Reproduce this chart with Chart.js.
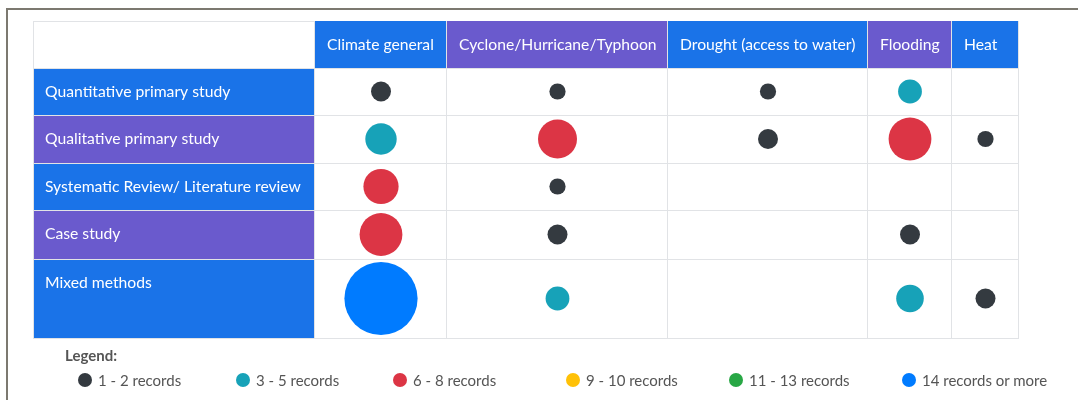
<!DOCTYPE html>
<html>
<head>
<meta charset="utf-8">
<title>Evidence gap map</title>
<script src="https://cdn.jsdelivr.net/npm/chart.js@4.4.0/dist/chart.umd.min.js"></script>
<style>
  html, body { margin: 0; padding: 0; background: #fff; width: 1078px; height: 400px; overflow: hidden; font-family: Lato, "Open Sans", sans-serif; }
  #frame { position: absolute; left: 6px; top: 8px; width: 1100px; height: 420px; border-top: 2px solid #7c7970; border-left: 2px solid #7c7970; box-sizing: border-box; }
  #map { position: absolute; left: 0; top: 0; }
  #legendTitle { position: absolute; left: 65px; top: 346px; font-size: 15px; font-weight: bold; color: #555; }
  .item { position: absolute; top: 371px; font-size: 15px; color: #555; white-space: nowrap; display: flex; align-items: center; }
  .dot { width: 14px; height: 14px; border-radius: 50%; margin-right: 6px; display: inline-block; }
</style>
</head>
<body>
<div id="frame"></div>
<canvas id="map" width="1078" height="400"></canvas>
<div id="legendTitle">Legend:</div>
<div id="legend"></div>
<script>
// Interventions (columns) and study designs (rows)
const columnLabels = ['Climate general', 'Cyclone/Hurricane/Typhoon', 'Drought (access to water)', 'Flooding', 'Heat'];
const rowLabels = ['Quantitative primary study', 'Qualitative primary study', 'Systematic Review/ Literature review', 'Case study', 'Mixed methods'];

// Number of records per cell, one array per study design (0 = no records)
const quantitativePrimary = [2, 1, 1, 3, 0];
const qualitativePrimary  = [5, 7, 2, 8, 1];
const systematicReview    = [6, 1, 0, 0, 0];
const caseStudy           = [8, 2, 0, 2, 0];
const mixedMethods        = [16, 3, 0, 4, 2];
const recordCounts = [quantitativePrimary, qualitativePrimary, systematicReview, caseStudy, mixedMethods];

// Legend bins
const legendLabels = ['1 - 2 records', '3 - 5 records', '6 - 8 records', '9 - 10 records', '11 - 13 records', '14 records or more'];
const binUpperBounds = [2, 5, 8, 10, 13, Infinity];

// Styling / layout
const binColors = ['#343a40', '#17a2b8', '#dc3545', '#ffc107', '#28a745', '#007bff'];
const cellColors = ['#1a73e8', '#6a5acd'];
const columnWidths = [132, 221, 200, 84, 67];
const rowHeights = [47, 48, 47, 49, 79];
const headerHeight = 47;
const labelColumnWidth = 282;
const legendLefts = [78, 236, 393, 566, 729, 902];
const gridColor = '#e1e3e6';
const cellFont = '15.7px Lato, sans-serif';

function binIndex(n) { return binUpperBounds.findIndex(b => n <= b); }
function bubbleRadius(n) { return 6.2 + 1.9 * n; }

function edges(sizes) {
  const out = [0];
  sizes.forEach(s => out.push(out[out.length - 1] + s));
  return out;
}
const colEdges = edges(columnWidths);
const rowEdges = edges(rowHeights);
const colCenters = columnWidths.map((w, i) => colEdges[i] + w / 2);
const rowCenters = rowHeights.map((h, i) => rowEdges[i] + h / 2);

const datasets = recordCounts.map((counts, r) => ({
  label: rowLabels[r],
  data: counts.map((n, c) => n > 0 ? { x: colCenters[c], y: rowCenters[r], r: bubbleRadius(n), n: n } : null).filter(Boolean),
  backgroundColor: ctx => binColors[binIndex(ctx.raw.n)],
  borderWidth: 0,
  hoverBorderWidth: 0
}));

// Draws the header row, the study-design column and the cell grid around the bubbles
const tablePlugin = {
  id: 'evidenceTable',
  beforeDatasetsDraw(chart) {
    const { ctx, scales: { x, y } } = chart;
    const xs = colEdges.map(v => x.getPixelForValue(v));
    const ys = rowEdges.map(v => y.getPixelForValue(v));
    const top = ys[0] - headerHeight;
    const left = xs[0] - labelColumnWidth;
    const right = xs[xs.length - 1];
    const bottom = ys[ys.length - 1];
    ctx.save();
    ctx.fillStyle = '#fff';
    ctx.fillRect(left, top, right - left, bottom - top);

    ctx.font = cellFont;
    ctx.textBaseline = 'middle';
    ctx.textAlign = 'left';
    // header cells
    columnLabels.forEach((lab, i) => {
      ctx.fillStyle = cellColors[i % 2];
      ctx.fillRect(xs[i], top, xs[i + 1] - xs[i], headerHeight);
      ctx.fillStyle = '#fff';
      ctx.fillText(lab, xs[i] + 12, top + headerHeight / 2);
    });
    // row label cells
    rowLabels.forEach((lab, j) => {
      ctx.fillStyle = cellColors[j % 2];
      ctx.fillRect(left, ys[j], labelColumnWidth, ys[j + 1] - ys[j]);
      ctx.fillStyle = '#fff';
      ctx.fillText(lab, left + 12, ys[j] + 24);
    });

    // grid lines
    ctx.strokeStyle = gridColor;
    ctx.lineWidth = 1;
    ctx.beginPath();
    xs.forEach(px => { ctx.moveTo(Math.round(px) - 0.5, top); ctx.lineTo(Math.round(px) - 0.5, bottom); });
    ctx.moveTo(left + 0.5, top); ctx.lineTo(left + 0.5, bottom);
    ys.forEach(py => { ctx.moveTo(left, Math.round(py) + 0.5); ctx.lineTo(right, Math.round(py) + 0.5); });
    ctx.moveTo(left, top + 0.5); ctx.lineTo(xs[0], top + 0.5);
    ctx.stroke();
    ctx.restore();
  }
};

new Chart(document.getElementById('map'), {
  type: 'bubble',
  data: { datasets },
  options: {
    responsive: false,
    animation: false,
    events: [],
    layout: { padding: { left: 315, top: 68, right: 59, bottom: 62 } },
    scales: {
      x: { type: 'linear', display: false, min: 0, max: colEdges[colEdges.length - 1] },
      y: { type: 'linear', display: false, reverse: true, min: 0, max: rowEdges[rowEdges.length - 1] }
    },
    plugins: { legend: { display: false }, tooltip: { enabled: false } }
  },
  plugins: [tablePlugin]
});

// Legend of record-count bins
const legendEl = document.getElementById('legend');
legendLabels.forEach((lab, i) => {
  const item = document.createElement('div');
  item.className = 'item';
  item.style.left = legendLefts[i] + 'px';
  const dot = document.createElement('span');
  dot.className = 'dot';
  dot.style.background = binColors[i];
  item.appendChild(dot);
  item.appendChild(document.createTextNode(lab));
  legendEl.appendChild(item);
});
</script>
</body>
</html>
